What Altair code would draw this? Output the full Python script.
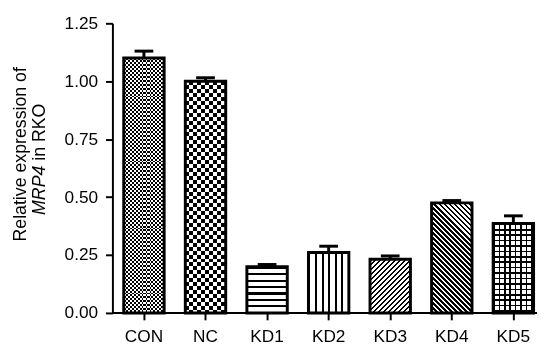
import altair as alt
import pandas as pd

# ---- data ----
categories = ["CON", "NC", "KD1", "KD2", "KD3", "KD4", "KD5"]
means = [1.10, 1.00, 0.199, 0.261, 0.232, 0.475, 0.386]
errors = [0.03, 0.015, 0.01, 0.027, 0.014, 0.01, 0.033]
y_ticks = [0.0, 0.25, 0.50, 0.75, 1.00, 1.25]
title_line1 = "Relative expression of"
title_gene = "MRP4"
title_rest = "in RKO"

df = pd.DataFrame({"cat": categories, "mean": means, "err": errors})

# ---- layout (pixels) ----
PLOT_W, PLOT_H = 431, 294
Y_MAX = 1.25
PX_PER_UNIT = PLOT_H / Y_MAX
P_IN = 0.344
X_RANGE = [11.5, 427.5]
STEP = (X_RANGE[1] - X_RANGE[0]) / (len(categories) - P_IN)
BAR_W = STEP * (1 - P_IN)
FONT = "Liberation Sans"
LABEL_SIZE = 17.5
TITLE_SIZE = 18


def stripe_stops(length_px, period, duty, on, off):
    n = length_px / period
    p = 1.0 / n
    stops = []
    k = 0
    while k * p < 1:
        a = k * p
        b = min(a + duty * p, 1.0)
        c = min((k + 1) * p, 1.0)
        stops += [{"offset": a, "color": on}, {"offset": b, "color": on},
                  {"offset": b, "color": off}, {"offset": c, "color": off}]
        k += 1
    return stops


def grad_rows(h, period, duty, on, off):
    return {"gradient": "linear", "x1": 0, "y1": 0, "x2": 0, "y2": 1,
            "stops": stripe_stops(h, period, duty, on, off)}


def grad_cols(w, period, duty, on, off):
    return {"gradient": "linear", "x1": 0, "y1": 0, "x2": 1, "y2": 0,
            "stops": stripe_stops(w, period, duty, on, off)}


def grad_diag(w, h, period, duty, on, off, slash=True):
    s = (w + h) / (w * w + h * h)
    length = (w + h) / (2 ** 0.5)
    if slash:
        g = {"x1": 0, "y1": 0, "x2": s * w, "y2": s * h}
    else:
        g = {"x1": 0, "y1": 1, "x2": s * w, "y2": 1 - s * h}
    g.update({"gradient": "linear",
              "stops": stripe_stops(length, period, duty, on, off)})
    return g


def bar_h(c):
    return means[categories.index(c)] * PX_PER_UNIT


W = BAR_W
base_fill = {
    "CON": grad_cols(W, 4.0, 0.55, "#000000", "#ffffff"),
    "NC": grad_cols(W, 8.0, 0.5, "#000000", "#ffffff"),
    "KD1": grad_rows(bar_h("KD1"), 6.5, 0.35, "#000000", "#ffffff"),
    "KD2": grad_cols(W, 6.7, 0.3, "#000000", "#ffffff"),
    "KD3": grad_diag(W, bar_h("KD3"), 3.6, 0.5, "#000000", "#ffffff", slash=True),
    "KD4": grad_diag(W, bar_h("KD4"), 3.6, 0.5, "#000000", "#ffffff", slash=False),
    "KD5": grad_cols(W, 5.5, 0.3, "#000000", "#ffffff"),
}
overlay_fill = {
    "CON": (grad_rows(bar_h("CON"), 4.0, 0.5, "#ffffff", "#000000"), "difference"),
    "NC": (grad_rows(bar_h("NC"), 8.0, 0.5, "#ffffff", "#000000"), "difference"),
    "KD5": (grad_rows(bar_h("KD5"), 5.5, 0.3, "#000000", "rgba(255,255,255,0)"), "normal"),
}

x_scale = alt.Scale(domain=categories, paddingInner=P_IN, paddingOuter=0, range=X_RANGE)
y_scale = alt.Scale(domain=[0, Y_MAX], nice=False, zero=True)
x_axis = alt.Axis(title=None, labelAngle=0, tickSize=7, labelPadding=8, domain=False)
y_axis = alt.Axis(title=None, values=y_ticks, format=".2f", tickSize=7, labelPadding=8)

X = alt.X("cat:N", scale=x_scale, axis=x_axis, sort=categories)
Y = alt.Y("mean:Q", scale=y_scale, axis=y_axis)

base = alt.Chart(df)
layers = []

# x-axis baseline spanning the whole plot width (axis line, not data)
layers.append(alt.Chart(pd.DataFrame({"d": [0]})).mark_rule(color="black", strokeWidth=2)
              .encode(x=alt.value(0), x2=alt.value(PLOT_W), y=alt.value(PLOT_H)))

for c in categories:
    layers.append(base.transform_filter(alt.datum.cat == c)
                  .mark_bar(fill=base_fill[c], strokeWidth=0)
                  .encode(x=X, y=Y))
for c, (g, mode) in overlay_fill.items():
    kw = {"fill": g, "strokeWidth": 0}
    if mode != "normal":
        kw["blend"] = mode
    layers.append(base.transform_filter(alt.datum.cat == c)
                  .mark_bar(**kw).encode(x=X, y=Y))

layers.append(base.mark_bar(fillOpacity=0, stroke="black", strokeWidth=3)
              .encode(x=X, y=Y))

err_base = base.transform_calculate(top="datum.mean + datum.err")
layers.append(err_base.mark_rule(color="black", strokeWidth=3)
              .encode(x=X, y=Y, y2="top:Q"))
layers.append(err_base.mark_tick(color="black", size=19, thickness=3, opacity=1)
              .encode(x=X, y=alt.Y("top:Q", scale=y_scale, axis=y_axis)))

tdf1 = pd.DataFrame({"t": [title_line1]})
tdf2 = pd.DataFrame({"t": [title_gene]})
tdf3 = pd.DataFrame({"t": [title_rest]})
layers.append(alt.Chart(tdf1).mark_text(angle=270, align="center", baseline="middle",
                                         font=FONT, fontSize=TITLE_SIZE, color="black")
              .encode(x=alt.value(-93), y=alt.value(133), text="t:N"))
layers.append(alt.Chart(tdf2).mark_text(angle=270, align="left", baseline="middle",
                                         font=FONT, fontSize=TITLE_SIZE, fontStyle="italic",
                                         color="black")
              .encode(x=alt.value(-73.5), y=alt.value(194.5), text="t:N"))
layers.append(alt.Chart(tdf3).mark_text(angle=270, align="left", baseline="middle",
                                         font=FONT, fontSize=TITLE_SIZE, color="black")
              .encode(x=alt.value(-73.5), y=alt.value(139.5), text="t:N"))

chart = alt.layer(*layers).properties(
    width=PLOT_W, height=PLOT_H,
    autosize=alt.AutoSizeParams(type="none"),
    padding={"left": 106, "top": 13, "right": 0, "bottom": 30},
    background="white",
).configure_view(stroke=None).configure_axis(
    domainColor="black", domainWidth=2, tickColor="black", tickWidth=2,
    labelColor="black", labelFont=FONT, labelFontSize=LABEL_SIZE, grid=False,
)

chart.save("out.html", embed_options={"renderer": "svg", "actions": False})
